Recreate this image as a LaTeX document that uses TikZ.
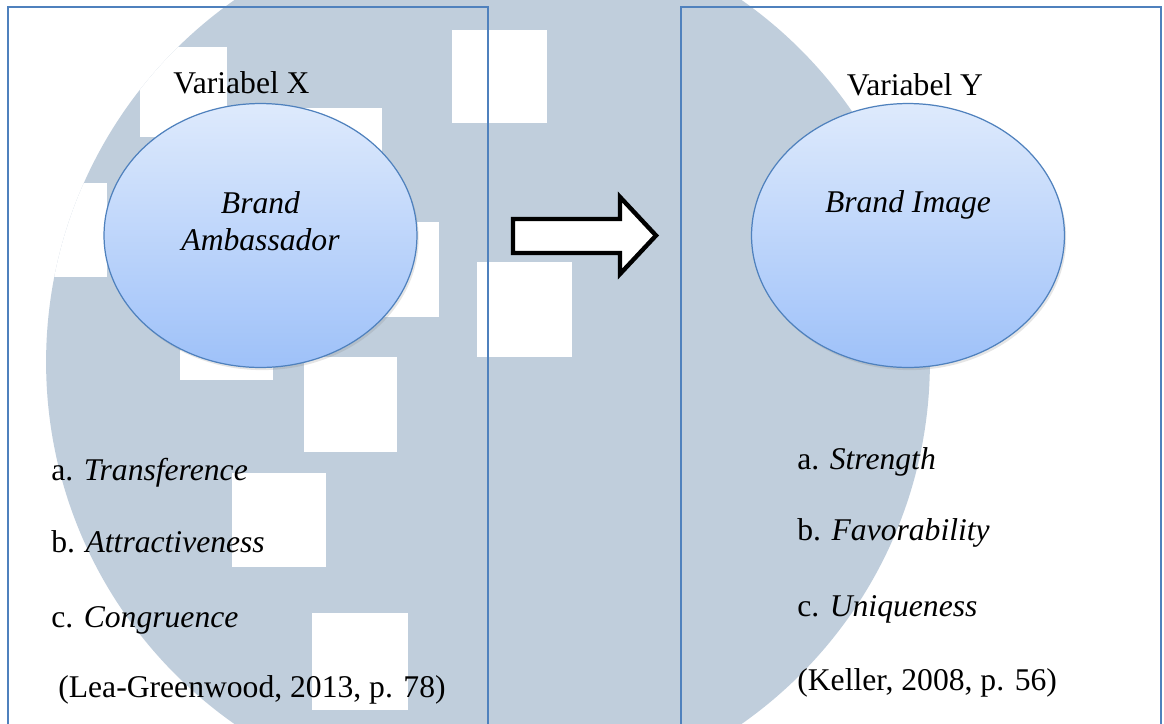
\documentclass[tikz,border=0pt]{standalone}
\usepackage{fontspec}
\setmainfont{Liberation Serif}
\usetikzlibrary{
    calc,
    positioning,
    shapes.geometric,
    shadows
}

\begin{document}
\begin{tikzpicture}[
    x=0.02cm, y=-0.02cm,
    font=\fontsize{18}{21}\selectfont,
    panel/.style={
    	draw=my-line,
    	line width=0.6pt
    }, bubble/.style={
    	ellipse, draw=my-line, line width=0.7pt,
    	minimum width=6.26cm, minimum height=5.28cm,
    	inner sep=0pt,
    	top color=my-top, bottom color=my-bottom,
    	drop shadow={opacity=0.2, shadow xshift=1pt, shadow yshift=-1.5pt}
    }, item/.style={
    	anchor=base west, inner sep=0pt
    }, title/.style={
    	anchor=base, inner sep=0pt
    }, pil/.style={
    	draw=black, fill=white,
    	line width=2.5pt, line join=miter
    }]
    \definecolor{my-line}{RGB}{79, 129, 189}
    \definecolor{my-top}{RGB}{222, 234, 252}
    \definecolor{my-bottom}{RGB}{158, 193, 249}
    \definecolor{my-mark}{RGB}{192, 206, 220}

    \useasboundingbox (0,0) rectangle (1164,724);
    \clip (0,0) rectangle (1164,724);
    \fill[white] (0,0) rectangle (1164,724);

    %%% watermark
    \begin{scope}
    \clip (488,362) circle (8.84cm);
    \fill[my-mark] (0,0) rectangle (1164,810);
    \foreach \xa/\ya/\xb/\yb in {140/47/227/137, 452/30/547/123, 287/108/382/203,
        344/222/439/317, 477/262/572/357, 180/285/273/380, 304/357/397/452,
        232/473/326/567, 312/613/408/710, 12/183/107/277}
        \fill[white] (\xa,\ya) rectangle (\xb,\yb);
    \end{scope}
    %%% watermark

    \draw[panel] (8,7) rectangle (488,760);
    \draw[panel] (681,7) rectangle (1161,760);

    %%% Variabel X
    \node[title] (var-x) at (241.5,93) {Variabel X};
    \node[bubble] (ell-x) at (260.5,235.5) {};
    \node[anchor=north, inner sep=0pt, align=center, font=\fontsize{18}{21}\selectfont\itshape] (txt-x) at (260.5,191.3) {Brand\\Ambassador};

    \node[item] (x-a) at (51,480) {a. \textit{Transference}};
    \node[item] (x-b) at (51,552) {b. \textit{Attractiveness}};
    \node[item] (x-c) at (51,627) {c. \textit{Congruence}};
    \node[item] (x-ref) at (58,697) {(Lea-Greenwood, 2013, p. 78)};
    %%% Variabel X

    %%% Variabel Y
    \node[title] (var-y) at (915,95) {Variabel Y};
    \node[bubble] (ell-y) at (908,235.5) {};
    \node[title, font=\fontsize{18}{21}\selectfont\itshape] (txt-y) at (908,212) {Brand Image};

    \node[item] (y-a) at (797,469) {a. \textit{Strength}};
    \node[item] (y-b) at (797,540) {b. \textit{Favorability}};
    \node[item] (y-c) at (797,616) {c. \textit{Uniqueness}};
    \node[item] (y-ref) at (797,690) {(Keller, 2008, p. 56)};
    %%% Variabel Y

    %%% ARROW
    \draw[pil] (513,219) -- (620,219) -- (620,197) -- (656,235.5) -- (620,274) -- (620,253) -- (513,253) -- cycle;

\end{tikzpicture}
\end{document}
